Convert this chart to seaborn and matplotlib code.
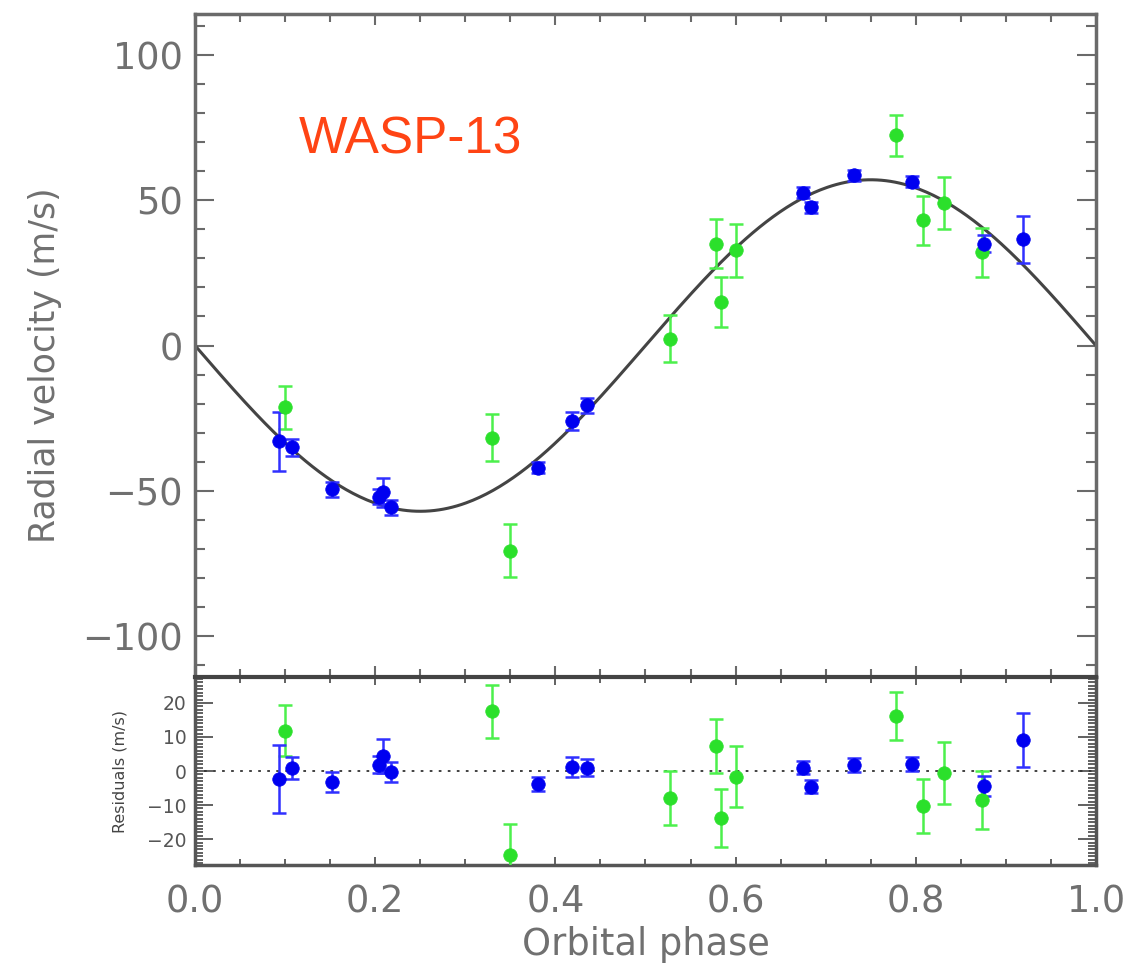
import numpy as np
import pandas as pd
import matplotlib
matplotlib.use("Agg")
import matplotlib.pyplot as plt
from matplotlib.ticker import MultipleLocator, FormatStrFormatter
import seaborn as sns

# ---------------- data ----------------
blue_phase = [0.093, 0.108, 0.152, 0.204, 0.209, 0.218, 0.381, 0.418, 0.435,
              0.675, 0.684, 0.731, 0.796, 0.876, 0.919]
blue_rv = [-33.0, -35.0, -49.5, -52.0, -50.5, -55.7, -42.0, -26.0, -20.6,
           52.6, 47.5, 58.5, 56.4, 35.0, 36.5]
blue_err = [10.0, 3.0, 2.5, 2.5, 5.0, 2.5, 2.0, 3.0, 2.5, 2.0, 2.0, 2.0, 2.0, 3.0, 8.0]
blue_res = [-2.4, 0.9, -3.2, 1.8, 4.4, -0.3, -3.9, 1.2, 0.9, 1.0, -4.6, 1.7, 2.0, -4.4, 9.1]
blue_res_err = [10.0, 3.2, 3.0, 2.5, 5.0, 3.0, 2.0, 3.0, 2.5, 2.0, 2.0, 2.0, 2.0, 3.0, 8.0]

green_phase = [0.100, 0.330, 0.350, 0.527, 0.578, 0.584, 0.600, 0.778, 0.808, 0.831, 0.873]
green_rv = [-21.3, -31.7, -70.5, 2.4, 35.0, 15.0, 32.7, 72.3, 43.0, 49.0, 32.0]
green_err = [7.5, 8.0, 9.0, 8.0, 8.5, 8.5, 9.0, 7.0, 8.5, 9.0, 8.5]
green_res = [11.8, 17.6, -24.7, -7.9, 7.4, -13.8, -1.7, 16.2, -10.2, -0.6, -8.4]
green_res_err = [7.5, 7.8, 9.0, 8.0, 8.0, 8.5, 9.0, 7.0, 8.0, 9.0, 8.5]

model_K = 57.0  # semi-amplitude of the fitted circular orbit (m/s)

x_ticks = [0.0, 0.2, 0.4, 0.6, 0.8, 1.0]
rv_ticks = [-100, -50, 0, 50, 100]
res_ticks = [-20, -10, 0, 10, 20]

title_text = "WASP-13"
xlabel_text = "Orbital phase"
ylabel_text = "Radial velocity (m/s)"
res_label_text = "Residuals (m/s)"

# ---------------- style ----------------
sns.set_theme(style="ticks")
plt.rcParams["font.family"] = ["DejaVu Sans"]

BLUE = "#0000F0"
BLUE_E = "#3030FF"
GREEN = "#2BE02B"
GREEN_E = "#4CF04C"
FRAME = "#6a6a6a"
TXT = "#707070"

df_blue = pd.DataFrame({"phase": blue_phase, "rv": blue_rv, "err": blue_err,
                        "res": blue_res, "res_err": blue_res_err})
df_green = pd.DataFrame({"phase": green_phase, "rv": green_rv, "err": green_err,
                         "res": green_res, "res_err": green_res_err})
phase_grid = np.linspace(0, 1, 400)
df_model = pd.DataFrame({"phase": phase_grid,
                         "rv": -model_K * np.sin(2 * np.pi * phase_grid)})

fig = plt.figure(figsize=(11.28, 9.74), dpi=100)
ax1 = fig.add_axes([0.1729, 0.3049, 0.7987, 0.6807])
ax2 = fig.add_axes([0.1729, 0.1119, 0.7987, 0.1930], sharex=ax1)

# ---------------- top panel ----------------
sns.lineplot(data=df_model, x="phase", y="rv", ax=ax1, color="#444444",
             linewidth=2.2, zorder=2)
for df, ce, cm in [(df_green, GREEN_E, GREEN), (df_blue, BLUE_E, BLUE)]:
    ax1.errorbar(df["phase"], df["rv"], yerr=df["err"], fmt="none",
                 ecolor=ce, elinewidth=1.8, capsize=5, capthick=1.8, zorder=3)
    sns.scatterplot(data=df, x="phase", y="rv", ax=ax1, color=cm, s=95,
                    edgecolor=cm, linewidth=0.5, zorder=4, legend=False)

ax1.set_xlim(0, 1)
ax1.set_ylim(-114, 114)
ax1.set_yticks(rv_ticks)
ax1.yaxis.set_minor_locator(MultipleLocator(10))
ax1.xaxis.set_minor_locator(MultipleLocator(0.05))
ax1.set_xticks(x_ticks)
ax1.tick_params(axis="x", labelbottom=False)
ax1.set_xlabel("")
ax1.set_ylabel(ylabel_text, fontsize=25, color=TXT, labelpad=16)
ax1.yaxis.set_label_coords(-0.148, 0.47)
ax1.tick_params(axis="both", which="both", direction="in", top=True, right=True,
                color=FRAME, width=1.5)
ax1.tick_params(axis="y", which="major", length=14, labelsize=26.5, labelcolor=TXT, pad=9)
ax1.tick_params(axis="y", which="minor", length=7)
ax1.tick_params(axis="x", which="major", length=8)
ax1.tick_params(axis="x", which="minor", length=6)
for sp in ax1.spines.values():
    sp.set_color(FRAME)
    sp.set_linewidth(2.5)

ax1.text(0.115, 0.79, title_text, transform=ax1.transAxes, fontsize=37,
         color="#FF4414", family=["Liberation Sans", "DejaVu Sans"],
         ha="left", va="baseline")

# ---------------- residual panel ----------------
ax2.axhline(0, color="#333333", linestyle=(0, (1.5, 3.5)), linewidth=1.3, zorder=1)
for df, ce, cm in [(df_green, GREEN_E, GREEN), (df_blue, BLUE_E, BLUE)]:
    ax2.errorbar(df["phase"], df["res"], yerr=df["res_err"], fmt="none",
                 ecolor=ce, elinewidth=1.8, capsize=5, capthick=1.8, zorder=3)
    sns.scatterplot(data=df, x="phase", y="res", ax=ax2, color=cm, s=95,
                    edgecolor=cm, linewidth=0.5, zorder=4, legend=False)

ax2.set_xlim(0, 1)
ax2.set_ylim(-27.6, 27.6)
ax2.set_yticks(res_ticks)
ax2.yaxis.set_minor_locator(MultipleLocator(1))
ax2.set_xticks(x_ticks)
ax2.xaxis.set_minor_locator(MultipleLocator(0.05))
ax2.xaxis.set_major_formatter(FormatStrFormatter("%.1f"))
ax2.set_xlabel(xlabel_text, fontsize=26.5, color=TXT, labelpad=4)
ax2.set_ylabel(res_label_text, fontsize=11.5, color="#444444", labelpad=14)
ax2.tick_params(axis="both", which="both", direction="in", top=True, right=True,
                color="#555555", width=1.3)
ax2.tick_params(axis="y", which="major", length=13, labelsize=13.5, labelcolor="#555555", pad=6)
ax2.tick_params(axis="y", which="minor", length=6)
ax2.tick_params(axis="x", which="major", length=6, labelsize=26.5, labelcolor=TXT, pad=13)
ax2.tick_params(axis="x", which="minor", length=4)
for name, sp in ax2.spines.items():
    sp.set_color("#555555")
    sp.set_linewidth(2.5)
ax2.spines["top"].set_color("#444444")
ax2.spines["top"].set_linewidth(3)

fig.savefig("out.png", dpi=100)
